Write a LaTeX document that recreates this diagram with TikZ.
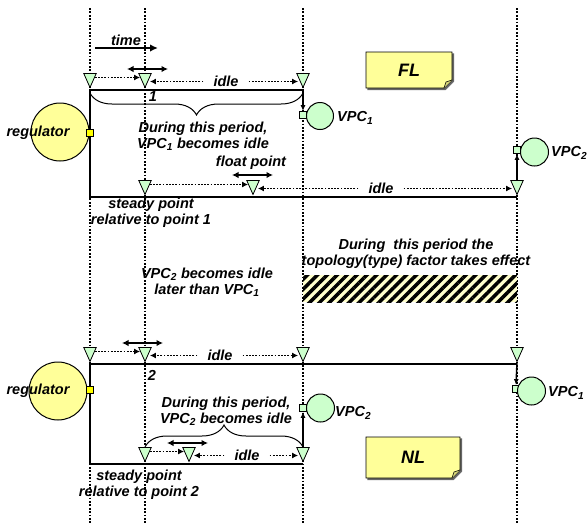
\documentclass[tikz,border=0pt]{standalone}
\usepackage{fontspec}
\setmainfont{Liberation Sans}
\usetikzlibrary{shapes.geometric,arrows.meta,decorations.pathreplacing,patterns.meta}
\definecolor{trig}{HTML}{CCFFCC}
\definecolor{regy}{HTML}{FFFF99}
\definecolor{sqy}{HTML}{FFFF00}
\definecolor{barf}{HTML}{FFFFCC}
\definecolor{notey}{HTML}{FFFF99}
\definecolor{foldy}{HTML}{D6D67A}
\begin{document}
\begin{tikzpicture}[x=1pt,y=-1pt,
  every node/.style={font=\fontsize{14.5}{16}\selectfont\bfseries\itshape, inner sep=0pt},
  vline/.style={line width=1.8pt, dash pattern=on 1.8pt off 1.6pt},
  tri/.style={isosceles triangle, shape border rotate=-90, isosceles triangle stretches,
    minimum width=12.5pt, minimum height=14pt, draw, line width=0.8pt, fill=trig, inner sep=0pt, anchor=apex},
  dotarrow/.style={line width=1.7pt, dash pattern=on 1.8pt off 1.4pt, -{Latex[length=6pt,width=6pt]}},
  dblarrow/.style={line width=1.3pt, {Latex[length=6.5pt,width=6.5pt]}-{Latex[length=6.5pt,width=6.5pt]}},
  axis/.style={line width=1.8pt},
  idlelbl/.style={inner xsep=10pt, inner ysep=2pt},
  sqr/.style={rectangle, draw, line width=0.8pt, minimum size=7pt, inner sep=0pt},
  vpc/.style={circle, draw, line width=1pt, fill=trig, minimum size=28pt},
  regc/.style={circle, draw, line width=1pt, fill=regy, minimum size=58pt},
  vpcarrow/.style={line width=1.5pt, -{Latex[length=6pt,width=5pt]}},
  bracel/.style={line width=1pt, decorate},
  notebox/.style={fill=notey, line width=0.8pt, draw}
]
\useasboundingbox (0,0) rectangle (587,523);

% vertical dotted guides
\foreach \x in {90,145,303,517} \draw[vline] (\x,8) -- (\x,523);

% hatched bar
\fill[barf] (303,275) rectangle (517,302);
\fill[pattern={Lines[angle=45,distance=7pt,line width=3.5pt]}, pattern color=black] (303,275) rectangle (517,302);
\node[align=center] (topo) at (416,254) {During\ \ this period the\\topology(type) factor takes effect};
\node[align=center] (later) at (207,282) {VPC\textsubscript{2} becomes idle\\later than VPC\textsubscript{1}};

% ================= FL =================
\draw[black!60, fill=black!60] (367.5,53.5) -- (453.8,53.5) -- (453.8,81.5) -- (445.5,89.8) -- (367.5,89.8) -- cycle;
\draw[notebox] (366,52) -- (452,52) -- (452,80) -- (444,88) -- (366,88) -- cycle;
\draw[fill=foldy, line width=0.6pt] (444,88) -- (446,82) -- (452,80);
\node (fl) at (409,70) {\fontsize{18}{20}\selectfont FL};

\node (time) at (126,40) {time};
\coordinate (t0) at (95,48);
\coordinate (t1) at (158,48);
\draw[line width=2.6pt, -{Latex[length=8pt,width=7.5pt]}] (t0) -- (t1);

\coordinate (f1) at (303,90);
\coordinate (f2) at (90,90);
\coordinate (f3) at (90,197);
\coordinate (f4) at (517,197);
\draw[axis] (f1) -- (f2) -- (f3) -- (f4);

\node[tri] (a1) at (90,88.5) {};
\node[tri] (a2) at (145,88.5) {};
\node[tri] (a3) at (303,88.5) {};
\node[idlelbl] (i1) at (226,81.5) {idle};
\draw[dotarrow] (a1.east) -- (a2.west);
\draw[dotarrow] (i1.west) -- (i1.west -| a2.east);
\draw[dotarrow] (i1.east) -- (i1.east -| a3.west);
\coordinate (d1) at (127,69);
\coordinate (d2) at (168,69);
\draw[dblarrow] (d1) -- (d2);
\node (one) at (153,97) {1};

\coordinate (br1) at (90,93);
\coordinate (br2) at (303,93);
\draw[bracel, decoration={brace, mirror, amplitude=22pt}] (br1) -- (br2);
\node[align=center] (dur1) at (203,136) {During this period,\\VPC\textsubscript{1} becomes idle};

\node[regc] (reg1) at (60,132) {};
\node (regl1) at (38,133) {regulator};
\node[sqr, fill=sqy] (rs1) at (90,133) {};

\node[sqr, fill=trig] (s1) at (303,115) {};
\node[vpc, minimum size=27pt] (v1) at (320,116) {};
\node[anchor=west] (v1l) at (337,118) {VPC\textsubscript{1}};
\draw[vpcarrow] (a3.apex) -- (s1.north);

\node[tri] (b1) at (145,195.5) {};
\node[tri] (b2) at (253,195.5) {};
\node[tri] (b3) at (517,195.5) {};
\node[idlelbl] (i2) at (381,188.5) {idle};
\draw[dotarrow] (b1.east) -- (b2.west);
\draw[dotarrow] (i2.west) -- (i2.west -| b2.east);
\draw[dotarrow] (i2.east) -- (i2.east -| b3.west);
\node (float) at (251,163) {float point};
\coordinate (d3) at (232,175);
\coordinate (d4) at (273,175);
\draw[dblarrow] (d3) -- (d4);

\node[sqr, fill=trig] (s2) at (517,150) {};
\node[vpc] (v2) at (534.5,152) {};
\node[anchor=west] (v2l) at (551,153) {VPC\textsubscript{2}};
\draw[vpcarrow] (b3.north) -- (s2.south);

\node[align=center] (st1) at (151,213) {steady point\\relative to point 1};

% ================= NL =================
\draw[black!60, fill=black!60] (367.5,438.5) -- (461.8,438.5) -- (461.8,471.5) -- (453.5,479.8) -- (367.5,479.8) -- cycle;
\draw[notebox] (366,437) -- (460,437) -- (460,470) -- (452,478) -- (366,478) -- cycle;
\draw[fill=foldy, line width=0.6pt] (452,478) -- (454,472) -- (460,470);
\node (nl) at (413,457) {\fontsize{18}{20}\selectfont NL};

\coordinate (g1) at (517,364);
\coordinate (g2) at (90,364);
\coordinate (g3) at (90,464);
\coordinate (g4) at (303,464);
\draw[axis] (g1) -- (g2) -- (g3) -- (g4);

\node[tri] (c1) at (90,362.5) {};
\node[tri] (c2) at (145,362.5) {};
\node[tri] (c3) at (303,362.5) {};
\node[tri] (c4) at (517,362.5) {};
\node[idlelbl] (i3) at (220,355.5) {idle};
\draw[dotarrow] (c1.east) -- (c2.west);
\draw[dotarrow] (i3.west) -- (i3.west -| c2.east);
\draw[dotarrow] (i3.east) -- (i3.east -| c3.west);
\coordinate (d5) at (122,343);
\coordinate (d6) at (163,343);
\draw[dblarrow] (d5) -- (d6);
\node (two) at (152,375) {2};

\node[regc] (reg2) at (58,391) {};
\node (regl2) at (38,391) {regulator};
\node[sqr, fill=sqy] (rs2) at (90,390) {};

\node[sqr, fill=trig] (s3) at (516,389) {};
\node[vpc] (v3) at (531.5,391) {};
\node[anchor=west] (v3l) at (548,393) {VPC\textsubscript{1}};
\draw[vpcarrow] (c4.apex) -- (s3.north);

\node[align=center] (dur2) at (226,411) {During this period,\\VPC\textsubscript{2} becomes idle};
\coordinate (br3) at (145,447);
\coordinate (br4) at (303,447);
\draw[bracel, decoration={brace, amplitude=22pt}] (br3) -- (br4);

\node[tri] (e1) at (145,462.5) {};
\node[tri] (e2) at (189,462.5) {};
\node[tri] (e3) at (303,462.5) {};
\node[idlelbl] (i4) at (247,455.5) {idle};
\draw[dotarrow] (e1.east) -- (e2.west);
\draw[dotarrow] (i4.west) -- (i4.west -| e2.east);
\draw[dotarrow] (i4.east) -- (i4.east -| e3.west);
\coordinate (d7) at (167,443);
\coordinate (d8) at (208,443);
\draw[dblarrow] (d7) -- (d8);

\node[sqr, fill=trig] (s4) at (303,408) {};
\node[vpc] (v4) at (320.5,408) {};
\node[anchor=west] (v4l) at (335,413) {VPC\textsubscript{2}};
\draw[vpcarrow] (e3.north) -- (s4.south);

\node[align=center] (st2) at (139,485) {steady point\\relative to point 2};
\end{tikzpicture}
\end{document}
